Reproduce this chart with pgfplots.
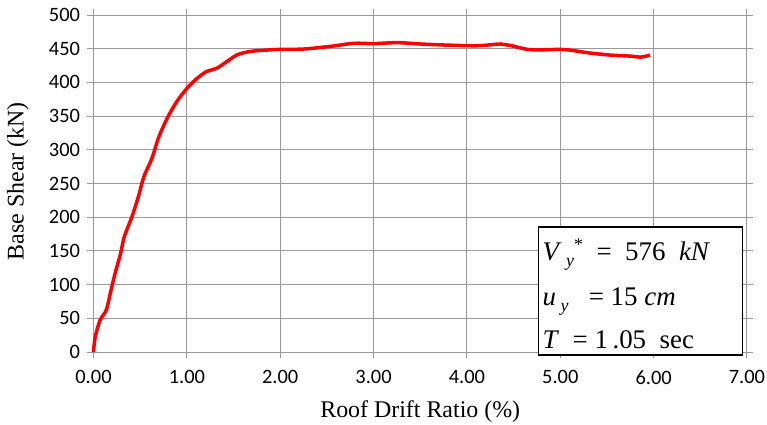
\documentclass[border=0pt]{standalone}
\usepackage{pgfplots}
\pgfplotsset{compat=1.18}
\usepackage{fontspec}
\setmainfont{Liberation Serif}
\newfontfamily\carlito{Carlito}
\newcommand{\sub}[1]{\raisebox{-6bp}{\fontsize{18}{18}\selectfont\textit{#1}}}
\begin{document}
\begin{tikzpicture}
\useasboundingbox (-93.5bp,-73bp) rectangle (673.5bp,352bp);
\begin{axis}[
  at={(0,0)}, anchor=south west,
  scale only axis, width=653.5bp, height=337bp,
  xmin=0, xmax=7, ymin=0, ymax=500,
  xtick={0,1,...,7}, ytick={0,50,...,500},
  grid=major, grid style={draw=black!40, line width=1pt},
  axis line style={draw=black!40, line width=1pt},
  tick style={draw=black!40, line width=1pt},
  tick align=outside, major tick length=6bp,
  x tick label style={/pgf/number format/fixed, /pgf/number format/fixed zerofill, /pgf/number format/precision=2, yshift=-9bp},
  y tick label style={xshift=-4bp},
  /pgf/number format/assume math mode=true,
  tick label style={font=\carlito\fontsize{20.5}{20.5}\selectfont},
  xlabel={Roof Drift Ratio (\%)}, ylabel={Base Shear (kN)},
  label style={font=\fontsize{24}{24}\selectfont},
  xlabel style={at={([yshift=-60bp]axis description cs:0.5,0)}, anchor=center},
  ylabel style={at={([xshift=-75.5bp]axis description cs:0,0.507)}, anchor=center},
  clip=false,
]
\addplot[red, line width=3.5bp, smooth, no markers] coordinates {
(0,0) (0.018,22) (0.07,47) (0.136,62) (0.18,87) (0.23,116) (0.29,146) (0.33,171)
(0.41,200) (0.48,230) (0.54,260) (0.625,287) (0.70,319) (0.79,347) (0.89,371)
(1.0,391) (1.11,406) (1.21,416) (1.32,421) (1.43,431) (1.54,441) (1.68,446)
(1.86,448) (2.0,449) (2.25,449.5) (2.54,453.5) (2.79,458) (3.0,457.5) (3.25,459)
(3.5,457) (3.75,455.5) (4.0,454.5) (4.14,454.5) (4.36,457) (4.46,455) (4.68,448.5)
(5.0,449) (5.1,448) (5.32,443.5) (5.54,440.5) (5.75,439) (5.86,437.5) (5.96,440.5)
};
\draw[black, line width=1.2pt, fill=white] (axis cs:4.77,-4.5) rectangle (axis cs:6.95,185.5);
\node[anchor=base west, font=\fontsize{27}{27}\selectfont, inner sep=0pt] at (axis cs:4.81,136.5)
  {\textit{V}\,\sub{y}\raisebox{10bp}{\fontsize{18}{18}\selectfont *}\ \ =\ \ 576\ \ \textit{kN}};
\node[anchor=base west, font=\fontsize{27}{27}\selectfont, inner sep=0pt] at (axis cs:4.81,69.7)
  {\textit{u}\,\sub{y}\ \ \ = 15 \textit{cm}};
\node[anchor=base west, font=\fontsize{27}{27}\selectfont, inner sep=0pt] at (axis cs:4.81,5.5)
  {\textit{T}\ \ = 1\,.05\ \ sec};
\end{axis}
\end{tikzpicture}
\end{document}
